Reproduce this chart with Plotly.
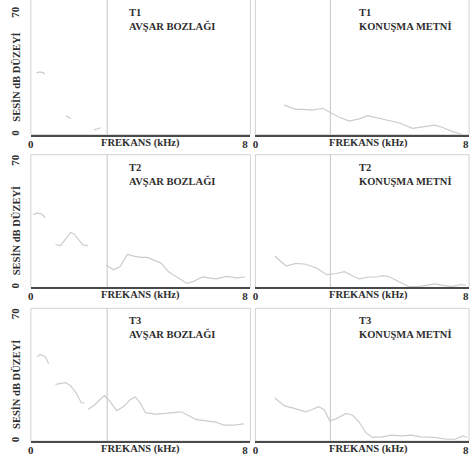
import plotly.graph_objects as go
from plotly.subplots import make_subplots

W, H = 472, 463

# ---------------- data (kHz, dB) ; None = gap where the trace faded ----------------
t1_avsar_khz = [0.22, 0.34, 0.47, 0.52, None, 1.32, 1.50, None, 2.36, 2.61]
t1_avsar_db = [35.8, 36.4, 35.8, 34.9, None, 11.0, 9.2, None, 2.8, 4.0]

t1_konusma_khz = [1.09, 1.54, 1.79, 2.17, 2.55, 2.87, 3.19, 3.57, 3.95, 4.27, 4.58,
                  5.09, 5.47, 5.98, 6.36, 6.81, 7.12, 7.50, 7.89]
t1_konusma_db = [17.1, 14.7, 14.7, 14.2, 15.3, 12.8, 10.1, 7.9, 9.2, 11.0, 9.8,
                 7.9, 6.8, 3.7, 4.6, 5.5, 4.2, 1.8, 0.0]

t2_avsar_khz = [0.09, 0.22, 0.41, 0.54, None, 0.92, 1.11, 1.30, 1.49, 1.62, 1.75, 1.94, 2.13,
                None, 2.81, 3.09, 3.34, 3.60, 3.85, 4.11, 4.36, 4.62, 4.87, 5.13, 5.51,
                5.83, 6.09, 6.41, 6.66, 6.92, 7.30, 7.69, 8.0]
t2_avsar_db = [40.5, 41.4, 40.9, 38.7, None, 23.9, 23.3, 27.0, 30.6, 29.7, 27.0, 23.7, 23.3,
               None, 12.5, 9.8, 11.6, 18.4, 17.4, 16.7, 16.7, 15.2, 13.4, 8.8, 5.3,
               2.2, 3.4, 5.8, 5.3, 4.7, 6.1, 5.3, 5.8]

t2_konusma_khz = [0.74, 1.17, 1.54, 1.91, 2.34, 2.71, 3.02, 3.39, 3.69, 3.94, 4.31, 4.62,
                  4.86, 5.11, 5.42, 5.84, 6.21, 6.58, 6.83, 7.14, 7.45, 7.82, 8.0]
t2_konusma_db = [17.4, 11.9, 13.4, 12.9, 10.7, 7.1, 7.6, 8.8, 6.5, 4.7, 5.8, 5.8,
                 6.5, 5.8, 3.4, 0.4, 0.4, 1.6, 2.0, 1.1, 0.4, 1.6, 1.1]

t3_avsar_khz = [0.23, 0.35, 0.54, 0.67, None, 0.92, 1.11, 1.30, 1.49, 1.69, 1.88, 2.0,
                None, 2.13, 2.38, 2.64, 2.76, 2.95, 3.21, 3.46, 3.71, 3.90, 4.09, 4.28,
                4.66, 5.04, 5.42, 5.62, 5.87, 6.18, 6.57, 6.89, 7.20, 7.58, 7.96]
t3_avsar_db = [47.0, 48.3, 47.0, 43.1, None, 31.6, 32.2, 32.6, 30.7, 26.9, 21.5, 21.1,
               None, 17.6, 20.1, 24.0, 25.3, 22.1, 16.9, 19.2, 23.0, 24.6, 21.1, 15.8,
               15.0, 15.4, 15.8, 16.3, 14.4, 11.9, 11.2, 10.6, 8.9, 8.9, 9.6]

t3_konusma_khz = [0.74, 1.11, 1.48, 1.91, 2.16, 2.40, 2.61, 2.83, 3.08, 3.45, 3.70, 3.94,
                  4.19, 4.44, 4.81, 5.18, 5.55, 5.92, 6.29, 6.78, 7.27, 7.58, 7.89, 8.05]
t3_konusma_db = [24.0, 19.6, 18.2, 16.3, 17.6, 19.2, 17.6, 11.2, 12.5, 15.4, 14.4, 10.6,
                 4.8, 2.0, 2.3, 3.3, 2.9, 3.3, 2.3, 2.0, 1.0, 1.0, 2.9, 2.0]

panel_titles = ["T1<br>AVŞAR BOZLAĞI", "T1<br>KONUŞMA METNİ",
                "T2<br>AVŞAR BOZLAĞI", "T2<br>KONUŞMA METNİ",
                "T3<br>AVŞAR BOZLAĞI", "T3<br>KONUŞMA METNİ"]
marker_khz = 2.85
x_ticks = [0, 8]
y_ticks = [0, 70]
x_title = "FREKANS (kHz)"
y_title = "SESİN dB DÜZEYİ"

series = [(t1_avsar_khz, t1_avsar_db), (t1_konusma_khz, t1_konusma_db),
          (t2_avsar_khz, t2_avsar_db), (t2_konusma_khz, t2_konusma_db),
          (t3_avsar_khz, t3_avsar_db), (t3_konusma_khz, t3_konusma_db)]

# ---------------- layout geometry (pixels) ----------------
col_px = [(28, 249), (254, 469)]
row_px = [(0, 135), (155, 288), (309, 442)]
x_ranges = [[0, 8.2], [0, 8.12]]
y_ranges = [[0, 78], [0, 74], [0, 74]]

def px_x(p):
    return p / W

def px_y(p):
    return 1 - p / H

TXT = "#2e2e2e"
FONT = "Liberation Serif"
CURVE = "#cccccc"
FRAME = "#d2d2d2"

fig = make_subplots(rows=3, cols=2)

for i, (xs, ys) in enumerate(series):
    r, c = i // 2, i % 2
    fig.add_trace(go.Scatter(x=xs, y=ys, mode="lines", connectgaps=False,
                             line=dict(color=CURVE, width=1.2), showlegend=False,
                             hoverinfo="skip"), row=r + 1, col=c + 1)

for i in range(6):
    r, c = i // 2, i % 2
    n = i + 1
    xa = "xaxis" if n == 1 else f"xaxis{n}"
    ya = "yaxis" if n == 1 else f"yaxis{n}"
    xref = "x" if n == 1 else f"x{n}"
    yref = "y" if n == 1 else f"y{n}"
    x0, x1 = col_px[c]
    y0, y1 = row_px[r]
    fig.layout[xa].update(domain=[px_x(x0), px_x(x1)], range=x_ranges[c],
                          tickvals=x_ticks, ticktext=[str(v) for v in x_ticks],
                          showgrid=False, zeroline=False, showline=True,
                          linecolor="#4a4a4a", linewidth=1.6, ticks="",
                          tickfont=dict(family=FONT, size=11, color=TXT, weight="bold"),
                          ticklabelstandoff=-2)
    fig.layout[ya].update(domain=[px_y(y1), px_y(y0)], range=y_ranges[r],
                          tickvals=y_ticks if c == 0 else [],
                          showticklabels=(c == 0), tickangle=-90,
                          showgrid=False, zeroline=False, showline=False, ticks="",
                          tickfont=dict(family=FONT, size=11, color=TXT, weight="bold"),
                          ticklabelstandoff=9)
    # light frame around panel (top edge of first row lies outside the picture)
    fig.add_shape(type="rect", xref=f"{xref} domain", yref=f"{yref} domain",
                  x0=0, x1=1, y0=0, y1=(1.08 if r == 0 else 1),
                  line=dict(color=FRAME, width=1), layer="below")
    # vertical marker line
    fig.add_shape(type="line", xref=xref, yref=f"{yref} domain",
                  x0=marker_khz, x1=marker_khz, y0=0, y1=1,
                  line=dict(color="#c4c4c4", width=1), layer="below")
    # panel title
    tx = 125 if c == 0 else 356
    fig.add_annotation(text=panel_titles[i], xref="paper", yref="paper",
                       x=px_x(tx), y=px_y(y0 + 5), xanchor="left", yanchor="top",
                       align="left", showarrow=False,
                       font=dict(family=FONT, size=10.5, color=TXT, weight="bold"))
    # x title
    fig.add_annotation(text=x_title, xref="paper", yref="paper",
                       x=px_x((x0 + x1) / 2 + (0 if c == 0 else 6)), y=px_y(y1 + 8),
                       xanchor="center", yanchor="middle", showarrow=False,
                       font=dict(family=FONT, size=10.5, color=TXT, weight="bold"))
    if c == 0:
        fig.add_annotation(text=y_title, xref="paper", yref="paper",
                           x=px_x(13), y=px_y(y0 + 0.57 * (y1 - y0)),
                           xanchor="center", yanchor="middle", textangle=-90,
                           showarrow=False,
                           font=dict(family=FONT, size=10.5, color=TXT, weight="bold"))

fig.update_layout(width=W, height=H, margin=dict(l=0, r=0, t=0, b=0),
                  paper_bgcolor="white", plot_bgcolor="white", showlegend=False)

fig.write_html("out.html", config={"displayModeBar": False},
               post_script="document.body.style.margin='0';")
